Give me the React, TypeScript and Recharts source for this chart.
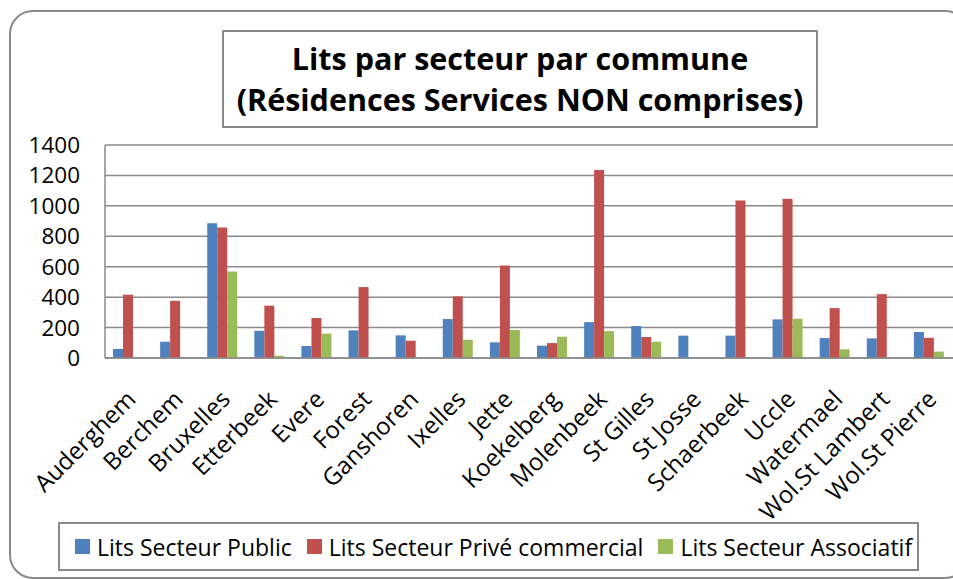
import React from "react";
import { BarChart, Bar, XAxis, YAxis, CartesianGrid, Legend } from "recharts";

const communes = [
  "Auderghem", "Berchem", "Bruxelles", "Etterbeek", "Evere", "Forest", "Ganshoren", "Ixelles", "Jette",
  "Koekelberg", "Molenbeek", "St Gilles", "St Josse", "Schaerbeek", "Uccle", "Watermael", "Wol.St Lambert", "Wol.St Pierre",
];
const publicBeds = [59, 107, 886, 179, 79, 182, 149, 256, 103, 81, 236, 210, 147, 147, 254, 131, 129, 171];
const priveBeds = [416, 376, 858, 344, 263, 466, 114, 405, 608, 98, 1236, 138, 0, 1035, 1046, 328, 420, 133];
const associatifBeds = [0, 0, 569, 15, 160, 0, 0, 120, 184, 140, 177, 107, 0, 0, 258, 57, 0, 42];
const yTicks = [0, 200, 400, 600, 800, 1000, 1200, 1400];
const seriesNames = ["Lits Secteur Public", "Lits Secteur Privé commercial", "Lits Secteur Associatif"];
const seriesColors = ["#4F81BD", "#C0504D", "#9BBB59"];
const titleLines = ["Lits par secteur par commune", "(Résidences Services NON comprises)"];

const data = communes.map((c, i) => ({
  name: c,
  pub: publicBeds[i],
  prive: priveBeds[i],
  asso: associatifBeds[i],
}));

const FONT = "'Open Sans', sans-serif";
const GRID = "#8a8a8a";

const XTick = (props: any) => {
  const { x, y, payload } = props;
  const ax = x + 2;
  const ay = y + 36;
  return (
    <text
      x={ax}
      y={ay}
      textAnchor="end"
      dominantBaseline="central"
      transform={`rotate(-45, ${ax}, ${ay})`}
      fontSize={24}
      fontFamily={FONT}
      fill="#000"
    >
      {payload.value}
    </text>
  );
};

const LegendContent = () => (
  <div
    style={{
      boxSizing: "border-box",
      width: 861,
      height: 49,
      border: `2px solid ${GRID}`,
      display: "flex",
      alignItems: "center",
      paddingLeft: 15,
      fontFamily: FONT,
      fontSize: 23,
      color: "#000",
      background: "#fff",
    }}
  >
    {seriesNames.map((n, i) => (
      <div key={n} style={{ display: "flex", alignItems: "center", marginLeft: i === 0 ? 0 : 15 }}>
        <span style={{ width: 15, height: 15, background: seriesColors[i], display: "inline-block", marginRight: 7 }} />
        <span style={{ whiteSpace: "nowrap" }}>{n}</span>
      </div>
    ))}
  </div>
);

export default function App() {
  return (
    <div style={{ position: "absolute", left: 0, top: 0, width: 953, height: 579, overflow: "hidden", background: "#fff" }}>
      <div
        style={{
          position: "absolute",
          left: 9,
          top: 10,
          width: 960,
          height: 569,
          boxSizing: "border-box",
          border: `2px solid ${GRID}`,
          borderRadius: 24,
        }}
      />
      <BarChart
        width={953}
        height={579}
        data={data}
        margin={{ top: 145, right: 0, left: 0, bottom: 0 }}
        barCategoryGap="17%"
        barGap={0}
        style={{ position: "absolute", left: 0, top: 0 }}
      >
        <CartesianGrid vertical={false} stroke={GRID} strokeWidth={1.5} />
        <YAxis
          width={105}
          domain={[0, 1400]}
          ticks={yTicks}
          tickLine={false}
          tickSize={0}
          tickMargin={25}
          axisLine={{ stroke: GRID, strokeWidth: 1.5 }}
          tick={{ fontSize: 22.5, fontFamily: FONT, fill: "#000" }}
          interval={0}
        />
        <XAxis
          dataKey="name"
          height={221}
          interval={0}
          tickLine={false}
          tickSize={0}
          tickMargin={0}
          axisLine={{ stroke: GRID, strokeWidth: 1.5 }}
          tick={<XTick />}
        />
        <Legend
          layout="horizontal"
          verticalAlign="middle"
          align="center"
          wrapperStyle={{ left: 58, top: 522, width: 861, height: 49 }}
          content={<LegendContent />}
        />
        <Bar dataKey="pub" name={seriesNames[0]} fill={seriesColors[0]} isAnimationActive={false} />
        <Bar dataKey="prive" name={seriesNames[1]} fill={seriesColors[1]} isAnimationActive={false} />
        <Bar dataKey="asso" name={seriesNames[2]} fill={seriesColors[2]} isAnimationActive={false} />
      </BarChart>
      <div
        style={{
          position: "absolute",
          left: 222,
          top: 30,
          width: 596,
          height: 98,
          boxSizing: "border-box",
          border: `2px solid ${GRID}`,
          background: "#fff",
          display: "flex",
          flexDirection: "column",
          justifyContent: "center",
          alignItems: "center",
          fontFamily: FONT,
          fontWeight: 700,
          fontSize: 30.5,
          lineHeight: "41px",
          color: "#000",
        }}
      >
        {titleLines.map((t) => (
          <div key={t} style={{ whiteSpace: "nowrap" }}>{t}</div>
        ))}
      </div>
    </div>
  );
}
